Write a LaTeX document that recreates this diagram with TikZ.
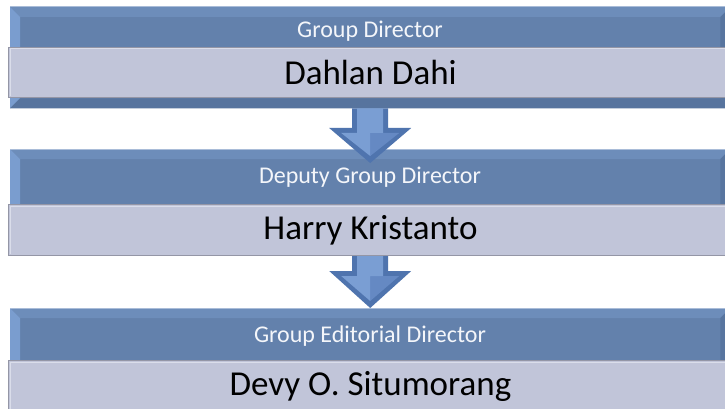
\documentclass[tikz,border=0pt]{standalone}
\usepackage{fontspec}
\setmainfont{Carlito}
\usetikzlibrary{calc}
\definecolor{darkbl}{HTML}{6381AC}
\definecolor{bevtop}{HTML}{6D8DBA}
\definecolor{bevleft}{HTML}{7A9DCF}
\definecolor{bevbot}{HTML}{57749E}
\definecolor{bevright}{HTML}{58759F}
\definecolor{edgehi}{HTML}{A9BCD8}
\definecolor{namefill}{HTML}{C1C5D9}
\definecolor{nameedge}{HTML}{9496A6}
\definecolor{namehi}{HTML}{DADDEA}
\definecolor{arrdark}{HTML}{4F74AE}
\definecolor{arrlight}{HTML}{7A9ED3}
\definecolor{arrmid}{HTML}{6589C3}
\definecolor{titletext}{HTML}{F4F6FA}
\tikzset{
  darkbox/.style={rectangle, fill=darkbl, inner sep=0pt, anchor=north west},
  namebox/.style={rectangle, fill=namefill, draw=nameedge, line width=1pt, inner sep=0pt, anchor=north west,
    font=\fontsize{35}{39}\selectfont, text=black},
  titlelabel/.style={font=\fontsize{24}{28}\selectfont, text=titletext, inner sep=0pt},
  arrowbody/.style={fill=arrdark},
  arrowinner/.style={fill=arrlight},
  arrowright/.style={fill=arrmid}
}
\begin{document}
\begin{tikzpicture}[x=1pt,y=-1pt]
\useasboundingbox (0,0) rectangle (725,409);
\fill[white] (0,0) rectangle (725,409);
\clip (0,0) rectangle (725,409);

% ---------- boxes ----------
\foreach \id/\top/\bot in {1/7/108, 2/149/255, 3/308/420}{
  \node[darkbox, minimum width=720pt, minimum height={\bot-\top}] (d\id) at (10,\top) {};
  \fill[bevtop] (d\id.north west) -- ($(d\id.north west)+(10,10)$) -- ($(d\id.north east)+(-10,10)$) -- (d\id.north east) -- cycle;
  \fill[bevleft] (d\id.north west) -- ($(d\id.north west)+(10,10)$) -- ($(d\id.south west)+(10,-10)$) -- (d\id.south west) -- cycle;
  \fill[bevbot] (d\id.south west) -- ($(d\id.south west)+(10,-10)$) -- ($(d\id.south east)+(-10,-10)$) -- (d\id.south east) -- cycle;
  \fill[bevright] (d\id.north east) -- ($(d\id.north east)+(-10,10)$) -- ($(d\id.south east)+(-10,-10)$) -- (d\id.south east) -- cycle;
  \draw[edgehi, line width=1pt] (d\id.north west) -- (d\id.north east);
}

\node[titlelabel] (t1) at (370,31) {Group Director};
\node[titlelabel] (t2) at (370,177) {Deputy Group Director};
\node[titlelabel] (t3) at (370,336) {Group Editorial Director};

\node[namebox, minimum width=724pt, minimum height=50pt] (n1) at (8,47) {Dahlan Dahi};
\node[namebox, minimum width=724pt, minimum height=51pt] (n2) at (8,204) {Harry Kristanto};
\node[namebox, minimum width=724pt, minimum height=51pt] (n3) at (8,360) {Devy O. Situmorang};
\foreach \id in {1,2,3}{
  \draw[namehi, line width=1pt] ($(n\id.north west)+(2,2)$) -- ($(n\id.north east)+(-2,2)$);
  \draw[namehi, line width=1pt] ($(n\id.north west)+(2,2)$) -- ($(n\id.south west)+(2,-2)$);
}

% ---------- block arrows ----------
\coordinate (a1s) at (d1.south);
\coordinate (a1t) at ($(d2.north)+(0,14)$);
\coordinate (a2s) at (n2.south -| d2.south);
\coordinate (a2t) at (d3.north);
\foreach \a/\hl in {1/35, 2/37}{
  \fill[arrowbody] ($(a\a s)+(-18,0)$) -- ($(a\a t)+(-18,-\hl)$) -- ($(a\a t)+(-41,-\hl)$) -- (a\a t)
     -- ($(a\a t)+(41,-\hl)$) -- ($(a\a t)+(18,-\hl)$) -- ($(a\a s)+(18,0)$) -- cycle;
  \fill[arrowright] ($(a\a t)+(0,-\hl+5)$) -- ($(a\a t)+(13,-\hl+5)$) -- ($(a\a t)+(29,-\hl+5)$) -- ($(a\a t)+(0,-7)$) -- cycle;
  \fill[arrowinner] ($(a\a s)+(-13,0)$) -- ($(a\a t)+(-13,-\hl+5)$) -- ($(a\a t)+(-29,-\hl+5)$) -- ($(a\a t)+(0,-7)$)
     -- ($(a\a t)+(0,-\hl+5)$) -- ($(a\a t)+(13,-\hl+5)$) -- ($(a\a s)+(13,0)$) -- cycle;
}
\end{tikzpicture}
\end{document}
